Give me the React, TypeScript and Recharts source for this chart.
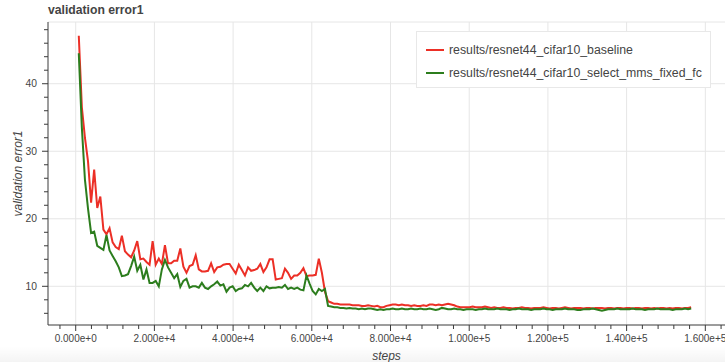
import { CartesianGrid, Legend, Line, LineChart, ReferenceLine, XAxis, YAxis } from "recharts";

const FONT = '"Liberation Sans", Helvetica, Arial, sans-serif';
const TEXT = "#444444";
const AXIS = "#3a3a3a";
const GRID = "#e6e6e6";

// validation runs every 782 training steps
const EVAL_INTERVAL = 782;

const baselineError = [
  47.1, 36.5, 32.0, 28.5, 22.4, 27.3, 21.6, 23.3, 18.4, 17.7,
  18.6, 16.5, 15.8, 15.5, 17.5, 15.2, 14.7, 14.3, 15.3, 16.7,
  14.0, 14.1, 13.6, 13.2, 16.7, 13.2, 14.1, 13.3, 16.1, 13.4,
  13.4, 13.8, 13.8, 15.6, 12.9, 12.0, 13.0, 13.2, 14.6, 12.5,
  12.2, 12.2, 12.3, 13.4, 12.1, 12.8, 12.9, 13.2, 13.3, 13.3,
  12.6, 11.9, 13.2, 12.4, 11.6, 12.8, 12.3, 12.4, 12.6, 13.3,
  12.1, 12.8, 14.0, 14.0, 11.0, 11.1, 11.2, 12.6, 12.0, 11.1,
  11.6, 11.6, 12.0, 12.7, 11.5, 11.6, 11.6, 11.7, 14.1, 12.0,
  9.2, 7.8, 7.6, 7.4, 7.4, 7.3, 7.3, 7.3, 7.3, 7.2,
  7.2, 7.2, 7.1, 7.1, 7.2, 7.1, 7.0, 7.1, 6.9, 6.9,
  7.1, 7.2, 7.3, 7.3, 7.2, 7.3, 7.2, 7.2, 7.1, 7.2,
  7.1, 7.1, 7.2, 7.1, 7.3, 7.3, 7.2, 7.3, 7.2, 7.3,
  7.4, 7.3, 7.2, 7.0, 6.9, 6.9, 6.9, 6.9, 7.0, 6.9,
  6.9, 6.9, 7.0, 6.9, 6.8, 6.9, 6.8, 6.8, 6.9, 6.8,
  6.8, 6.7, 6.8, 6.8, 6.9, 6.8, 6.8, 6.7, 6.8, 6.8,
  6.8, 6.9, 6.8, 6.7, 6.8, 6.8, 6.7, 6.8, 6.9, 6.8,
  6.7, 6.8, 6.8, 6.8, 6.7, 6.8, 6.8, 6.7, 6.8, 6.8,
  6.8, 6.7, 6.8, 6.8, 6.7, 6.8, 6.8, 6.7, 6.8, 6.8,
  6.7, 6.8, 6.8, 6.7, 6.8, 6.8, 6.7, 6.8, 6.7, 6.8,
  6.8, 6.7, 6.8, 6.7, 6.8, 6.8, 6.7, 6.8, 6.8, 6.9,
];

const selectMmsError = [
  44.5, 33.5, 25.8, 21.5, 17.9, 18.1, 16.0, 15.7, 15.4, 17.6,
  15.3, 14.5, 13.7, 12.8, 11.5, 11.6, 11.8, 13.0, 14.4, 12.3,
  13.2, 11.0, 12.5, 10.5, 10.5, 10.8, 10.0, 12.5, 13.9, 12.8,
  12.0, 11.2, 11.8, 9.9, 10.8, 11.1, 9.8, 10.0, 10.0, 9.8,
  10.5, 9.8, 9.6, 10.0, 10.3, 10.7, 10.1, 10.3, 9.2, 9.8,
  10.0, 9.3, 9.6, 9.7, 10.2, 10.0, 10.5, 9.8, 9.3, 9.8,
  9.3, 10.0, 9.7, 9.8, 9.8, 9.9, 9.8, 10.2, 9.6, 9.8,
  9.6, 9.8, 9.5, 9.4, 11.6, 10.4, 9.3, 8.8, 9.6, 9.3,
  9.6, 7.1, 7.0, 6.9, 6.9, 6.8, 6.8, 6.7, 6.8, 6.7,
  6.7, 6.6, 6.7, 6.6, 6.7, 6.7, 6.6, 6.5, 6.6, 6.5,
  6.6, 6.6, 6.7, 6.6, 6.6, 6.7, 6.6, 6.6, 6.7, 6.6,
  6.6, 6.7, 6.6, 6.6, 6.7, 6.6, 6.5, 6.6, 6.8, 6.7,
  6.6, 6.6, 6.7, 6.6, 6.6, 6.5, 6.6, 6.6, 6.6, 6.5,
  6.6, 6.6, 6.7, 6.6, 6.6, 6.6, 6.7, 6.6, 6.6, 6.6,
  6.5, 6.6, 6.6, 6.7, 6.6, 6.6, 6.6, 6.5, 6.6, 6.6,
  6.6, 6.7, 6.6, 6.6, 6.5, 6.6, 6.6, 6.6, 6.7, 6.6,
  6.6, 6.6, 6.5, 6.5, 6.6, 6.6, 6.6, 6.7, 6.6, 6.5,
  6.4, 6.5, 6.6, 6.6, 6.6, 6.7, 6.6, 6.6, 6.6, 6.6,
  6.7, 6.6, 6.6, 6.6, 6.5, 6.6, 6.6, 6.6, 6.7, 6.6,
  6.6, 6.6, 6.6, 6.5, 6.6, 6.6, 6.6, 6.7, 6.6, 6.7,
];

const xMajorTicks = [0, 20000, 40000, 60000, 80000, 100000, 120000, 140000, 160000];
const yMajorTicks = [10, 20, 30, 40];
const X_MINOR_STEP = 4000;
const Y_MINOR_STEP = 2;

const X_DOMAIN: [number, number] = [-7040, 165000];
const Y_DOMAIN: [number, number] = [4.27, 49.14];

const xTicks: number[] = [];
for (let v = -4000; v <= 164000; v += X_MINOR_STEP) xTicks.push(v);
const yTicks: number[] = [];
for (let v = 6; v <= 48; v += Y_MINOR_STEP) yTicks.push(v);

const data = baselineError.map((v, i) => ({
  step: (i + 1) * EVAL_INTERVAL,
  baseline: v,
  mms: selectMmsError[i],
}));

const series = [
  { key: "baseline", name: "results/resnet44_cifar10_baseline", color: "#ec2f26" },
  { key: "mms", name: "results/resnet44_cifar10_select_mms_fixed_fc", color: "#2c7d1d" },
];

function sci(v: number) {
  if (v === 0) return "0.000e+0";
  const exp = Math.floor(Math.log10(Math.abs(v)));
  return `${(v / 10 ** exp).toFixed(3)}e+${exp}`;
}

function XTick({ x, y, payload }: any) {
  const major = xMajorTicks.includes(payload.value);
  return (
    <g>
      <line x1={x} x2={x} y1={y} y2={y + (major ? 6 : 4)} stroke={AXIS} />
      {major && (
        <text x={x} y={y + 17} textAnchor="middle" fill={TEXT} fontSize={10} fontFamily={FONT}>
          {sci(payload.value)}
        </text>
      )}
    </g>
  );
}

function YTick({ x, y, payload }: any) {
  const major = yMajorTicks.includes(payload.value);
  return (
    <g>
      <line x1={x - (major ? 6 : 4)} x2={x} y1={y} y2={y} stroke={AXIS} />
      {major && (
        <text x={x - 11} y={y} dy="0.36em" textAnchor="end" fill={TEXT} fontSize={10.3} fontFamily={FONT}>
          {payload.value}
        </text>
      )}
    </g>
  );
}

function XTitle({ viewBox }: any) {
  return (
    <text x={viewBox.x + viewBox.width / 2} y={viewBox.y + 35} textAnchor="middle" fill={TEXT}
      fontSize={12} fontStyle="italic" fontFamily={FONT}>
      steps
    </text>
  );
}

function YTitle({ viewBox }: any) {
  const cx = viewBox.x + 22;
  const cy = viewBox.y + viewBox.height / 2;
  return (
    <text x={cx} y={cy} transform={`rotate(-90, ${cx}, ${cy})`} textAnchor="middle" fill={TEXT}
      fontSize={12} fontStyle="italic" fontFamily={FONT}>
      validation error1
    </text>
  );
}

function LegendBox({ payload }: any) {
  return (
    <div
      style={{
        width: 295,
        height: 57,
        boxSizing: "border-box",
        border: "1px solid #e8e8e8",
        background: "#fff",
        padding: "7px 0 0 9px",
        fontFamily: FONT,
        fontSize: 12.3,
        color: TEXT,
      }}
    >
      {(payload ?? []).map((item: any) => (
        <div key={item.value} style={{ display: "flex", alignItems: "center", height: 22.4 }}>
          <span style={{ width: 18, height: 2, background: item.color, marginRight: 5 }} />
          <span>{item.value}</span>
        </div>
      ))}
    </div>
  );
}

export default function App() {
  return (
    <div style={{ position: "absolute", left: 0, top: 0, width: 725, height: 362, background: "#fff", overflow: "hidden" }}>
      <div
        style={{
          position: "absolute",
          left: 0,
          bottom: 0,
          width: 725,
          height: 16,
          background: "linear-gradient(to bottom, rgba(0,0,0,0), rgba(0,0,0,0.045))",
        }}
      />
      <div
        style={{
          position: "absolute",
          left: 48,
          top: 3,
          fontFamily: FONT,
          fontWeight: "bold",
          fontSize: 12.2,
          color: TEXT,
          lineHeight: "14px",
        }}
      >
        validation error1
      </div>
      <div style={{ position: "absolute", left: 0, top: 0 }}>
        <LineChart width={725} height={362} data={data} margin={{ top: 22, right: 0, bottom: 0, left: 0 }}>
          <CartesianGrid
            stroke={GRID}
            horizontalValues={yMajorTicks}
            verticalValues={xMajorTicks}
          />
          <ReferenceLine y={Y_DOMAIN[1]} stroke={GRID} />
          <XAxis
            dataKey="step"
            type="number"
            domain={X_DOMAIN}
            allowDataOverflow
            ticks={xTicks}
            interval={0}
            tick={<XTick />}
            tickSize={0}
            tickMargin={0}
            tickLine={false}
            axisLine={{ stroke: AXIS }}
            height={37}
            label={<XTitle />}
          />
          <YAxis
            type="number"
            domain={Y_DOMAIN}
            allowDataOverflow
            ticks={yTicks}
            interval={0}
            tick={<YTick />}
            tickSize={0}
            tickMargin={0}
            tickLine={false}
            axisLine={{ stroke: AXIS }}
            width={48}
            label={<YTitle />}
          />
          <Legend
            layout="vertical"
            align="center"
            verticalAlign="middle"
            content={<LegendBox />}
            wrapperStyle={{ position: "absolute", left: 416, top: 31, width: "auto" }}
          />
          {series.map((s) => (
            <Line
              key={s.key}
              type="linear"
              dataKey={s.key}
              name={s.name}
              stroke={s.color}
              strokeWidth={2}
              dot={false}
              isAnimationActive={false}
            />
          ))}
        </LineChart>
      </div>
    </div>
  );
}
